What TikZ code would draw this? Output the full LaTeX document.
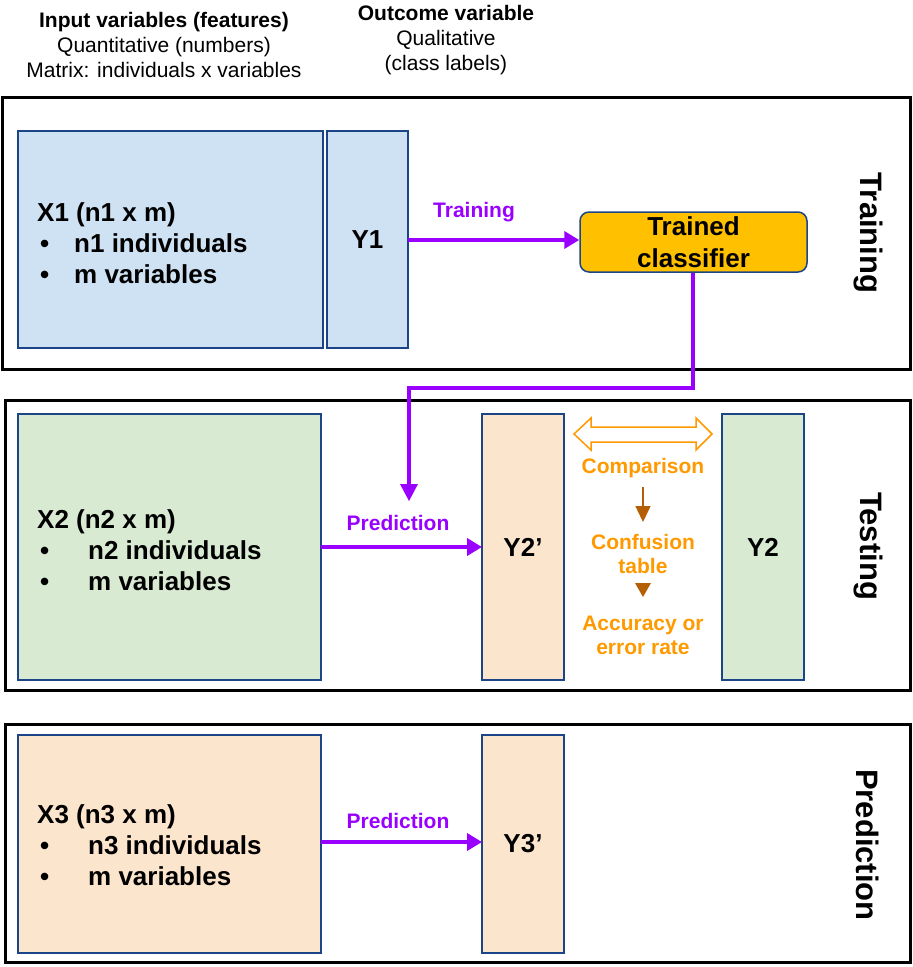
\documentclass[tikz,border=0pt]{standalone}
\usepackage{fontspec}
\setmainfont{Liberation Sans}
\usetikzlibrary{arrows.meta}
\definecolor{purp}{HTML}{9900FF}
\definecolor{orng}{HTML}{FF9900}
\definecolor{brwn}{HTML}{B45F06}
\definecolor{bfill}{HTML}{CFE2F3}
\definecolor{gfill}{HTML}{D9EAD3}
\definecolor{pfill}{HTML}{FCE5CD}
\definecolor{edge}{HTML}{1C4587}
\definecolor{amber}{HTML}{FFC000}
\tikzset{
  outer/.style={draw=black, line width=3pt, inner sep=0pt, outer sep=0pt},
  mat/.style={draw=edge, line width=1.5pt, inner sep=0pt, outer sep=0pt, font=\fontsize{26}{31}\selectfont\bfseries},
  hdr/.style={align=center, inner sep=0pt, font=\fontsize{21}{25}\selectfont},
  mtext/.style={anchor=west, align=left, inner sep=0pt, font=\fontsize{26}{31}\selectfont\bfseries},
  side/.style={rotate=-90, inner sep=0pt, font=\fontsize{31}{36}\selectfont\bfseries},
  plabel/.style={inner sep=0pt, text=purp, font=\fontsize{21}{25}\selectfont\bfseries},
  olabel/.style={inner sep=0pt, text=orng, align=center, font=\fontsize{21}{24}\selectfont\bfseries},
  parrow/.style={draw=purp, line width=4pt, -{Triangle[length=15pt,width=17pt]}},
}
\begin{document}
\begin{tikzpicture}[x=1pt,y=-1pt]
\useasboundingbox (0,0) rectangle (913,967);
% headers
\node[hdr] (h1) at (164,45) {\textbf{Input variables (features)}\\Quantitative (numbers)\\Matrix: individuals x variables};
\node[hdr] (h2) at (446,40) {\textbf{Outcome variable}\\Qualitative\\(class labels)};
% outer boxes
\node[outer, minimum width=908pt, minimum height=272pt] (trainbox) at (456.5,233.5) {};
\node[outer, minimum width=905pt, minimum height=290pt] (testbox) at (458,545.5) {};
\node[outer, minimum width=905pt, minimum height=238pt] (predbox) at (458,843.5) {};
\node[side] (sTrain) at (868,233) {Training};
\node[side] (sTest) at (868,546) {Testing};
\node[side] (sPred) at (868,845) {Prediction};
% training
\node[mat, fill=bfill, minimum width=305pt, minimum height=217pt] (X1) at (170.5,239.5) {};
\node[mat, fill=bfill, minimum width=81pt, minimum height=217pt] (Y1) at (367.5,239.5) {Y1};
\node[mtext] (X1t) at (37,243) {X1 (n1 x m)\\\makebox[37pt][l]{\hspace{3pt}\textbullet}n1 individuals\\\makebox[37pt][l]{\hspace{3pt}\textbullet}m variables};
\node[draw=edge, line width=1.5pt, fill=amber, rounded corners=9pt, minimum width=227pt, minimum height=60pt, inner sep=0pt, align=center, font=\fontsize{26}{32}\selectfont\bfseries] (clf) at (693.5,242) {Trained\\classifier};
\draw[parrow] (Y1.east |- 0,240) -- (clf.west |- 0,240);
\node[plabel] (lTrain) at (474,212) {Training};
% testing
\node[mat, fill=gfill, minimum width=303pt, minimum height=266pt] (X2) at (169.5,547) {};
\node[mtext] (X2t) at (37,550) {X2 (n2 x m)\\\makebox[51pt][l]{\hspace{3pt}\textbullet}n2 individuals\\\makebox[51pt][l]{\hspace{3pt}\textbullet}m variables};
\node[mat, fill=pfill, minimum width=82pt, minimum height=266pt] (Y2p) at (523,547) {Y2’};
\node[mat, fill=gfill, minimum width=82pt, minimum height=266pt] (Y2) at (763,547) {Y2};
\coordinate (c1) at (693,388);
\coordinate (c2) at (409,388);
\coordinate (c3) at (409,501);
\draw[draw=purp, line width=4pt] (clf.south -| c1) -- (c1) -- (c2) -- (409,486);
\fill[purp] (400,484) -- (418,484) -- (c3) -- cycle;
\draw[parrow] (X2.east |- 0,547) -- (Y2p.west |- 0,547);
\node[plabel] (lPred2) at (398,523) {Prediction};
% comparison double arrow
\draw[draw=orng, line width=1.5pt, fill=white, line join=miter]
  (574,434) -- (591,418) -- (591,427) -- (696,427) -- (696,418) -- (712,434)
  -- (696,450) -- (696,442) -- (591,442) -- (591,450) -- cycle;
\node[olabel] (lCmp) at (643,468) {Comparison};
\node[olabel] (lConf) at (643,554) {Confusion\\table};
\node[olabel] (lAcc) at (643,635) {Accuracy or\\error rate};
\draw[draw=brwn, line width=1.5pt, -{Triangle[length=16pt,width=15pt]}] (643,487) -- (643,522);
\coordinate (tri) at (643,597);
\fill[brwn] (635,583) -- (651,583) -- (tri) -- cycle;
% prediction
\node[mat, fill=pfill, minimum width=303pt, minimum height=218pt] (X3) at (169.5,844) {};
\node[mtext] (X3t) at (37,845) {X3 (n3 x m)\\\makebox[51pt][l]{\hspace{3pt}\textbullet}n3 individuals\\\makebox[51pt][l]{\hspace{3pt}\textbullet}m variables};
\node[mat, fill=pfill, minimum width=82pt, minimum height=218pt] (Y3p) at (523,844) {Y3’};
\draw[parrow] (X3.east |- 0,842) -- (Y3p.west |- 0,842);
\node[plabel] (lPred3) at (398,821) {Prediction};
\end{tikzpicture}
\end{document}
